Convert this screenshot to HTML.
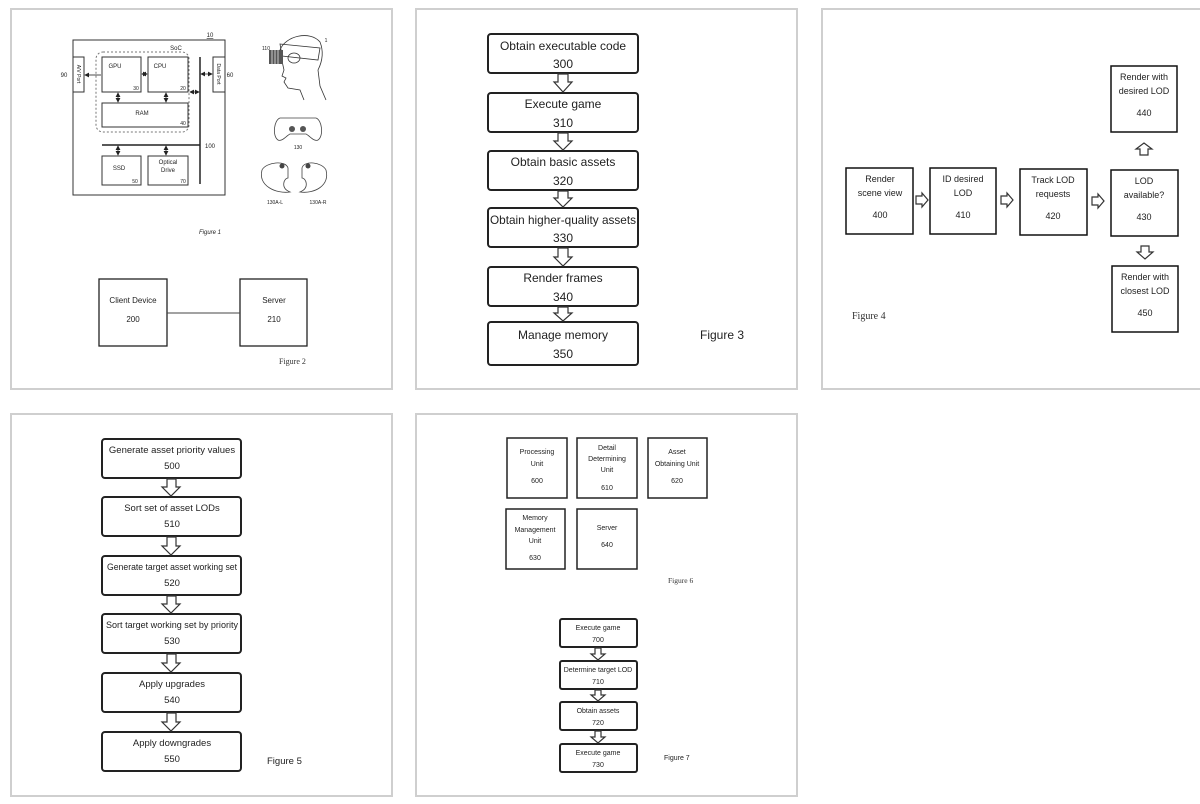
<!DOCTYPE html>
<html><head><meta charset="utf-8"><style>
html,body{margin:0;padding:0;background:#fff;}
svg{display:block;}
.s{font-family:"Liberation Sans",sans-serif;fill:#222;text-anchor:middle;}
.r{font-family:"Liberation Serif",serif;fill:#333;}
.b{fill:#fff;stroke:#222;stroke-width:2;}
.a{fill:#fff;stroke:#333;stroke-width:1.2;}
.p{fill:#fff;stroke:#cfcfcf;stroke-width:2;}
</style></head><body>
<svg width="1200" height="804" viewBox="0 0 1200 804" xmlns="http://www.w3.org/2000/svg">
<defs>
<marker id="ah" markerWidth="6" markerHeight="6" refX="5" refY="3" orient="auto-start-reverse"><path d="M0,0 L6,3 L0,6z" fill="#222"/></marker>
</defs>
<rect class="p" x="11" y="9" width="381" height="380"/>
<rect class="p" x="416" y="9" width="381" height="380"/>
<rect class="p" x="822" y="9" width="400" height="380"/>
<rect class="p" x="11" y="414" width="381" height="382"/>
<rect class="p" x="416" y="414" width="381" height="382"/>

<!-- Figure 1 -->
<g font-size="6" class="s">
<rect x="73" y="40" width="152" height="155" fill="none" stroke="#333" stroke-width="1"/>
<text x="210" y="37" font-size="6" text-decoration="underline">10</text>
<rect x="96" y="52" width="93" height="80" rx="7" fill="none" stroke="#777" stroke-width="1" stroke-dasharray="2,2"/>
<text x="176" y="50">SoC</text>
<rect x="102" y="57" width="39" height="35" fill="none" stroke="#333"/>
<text x="115" y="68">GPU</text><text x="136" y="90" font-size="5">30</text>
<rect x="148" y="57" width="40" height="35" fill="none" stroke="#333"/>
<text x="160" y="68">CPU</text><text x="183" y="90" font-size="5">20</text>
<rect x="102" y="103" width="86" height="24" fill="none" stroke="#333"/>
<text x="142" y="115">RAM</text><text x="183" y="125" font-size="5">40</text>
<rect x="73" y="57" width="11" height="35" fill="none" stroke="#333"/>
<text transform="translate(77,74) rotate(90)" font-size="5">A/V Port</text>
<rect x="213" y="57" width="12" height="35" fill="none" stroke="#333"/>
<text transform="translate(217,74) rotate(90)" font-size="5">Data Port</text>
<text x="64" y="77">90</text><text x="230" y="77">60</text>
<line x1="200" y1="57" x2="200" y2="184" stroke="#222" stroke-width="1.5"/>
<line x1="102" y1="145" x2="200" y2="145" stroke="#222" stroke-width="1.5"/>
<text x="210" y="148">100</text>
<rect x="102" y="156" width="39" height="29" fill="none" stroke="#333"/>
<text x="119" y="170">SSD</text><text x="135" y="183" font-size="5">50</text>
<rect x="148" y="156" width="40" height="29" fill="none" stroke="#333"/>
<text x="168" y="164">Optical</text><text x="168" y="172">Drive</text><text x="183" y="183" font-size="5">70</text>
<g stroke="#222" stroke-width="0.8" fill="none">
<line x1="85" y1="75" x2="101" y2="75" marker-start="url(#ah)"/>
<line x1="142" y1="74" x2="147" y2="74" marker-start="url(#ah)" marker-end="url(#ah)"/>
<line x1="118" y1="93" x2="118" y2="102" marker-start="url(#ah)" marker-end="url(#ah)"/>
<line x1="166" y1="93" x2="166" y2="102" marker-start="url(#ah)" marker-end="url(#ah)"/>
<line x1="190" y1="92" x2="199" y2="92" marker-start="url(#ah)" marker-end="url(#ah)"/>
<line x1="201" y1="74" x2="212" y2="74" marker-start="url(#ah)" marker-end="url(#ah)"/>
<line x1="118" y1="146" x2="118" y2="155" marker-start="url(#ah)" marker-end="url(#ah)"/>
<line x1="166" y1="146" x2="166" y2="155" marker-start="url(#ah)" marker-end="url(#ah)"/>
</g>
<g fill="none" stroke="#333" stroke-width="0.8">
<path d="M280,50 C285,36 310,30 320,42 C324,52 322,62 318,70 L320,86 L326,100"/>
<path d="M280,52 L284,70 L282,76 L286,78 L284,82 L288,88 L300,90 L304,100"/>
<path d="M280,44 L320,48 L318,60 L282,56z"/>
<ellipse cx="294" cy="58" rx="6" ry="5"/>
</g>
<rect x="269" y="50" width="14" height="14" fill="#555"/>
<g stroke="#fff" stroke-width="0.7"><line x1="272" y1="50" x2="272" y2="64"/><line x1="275" y1="50" x2="275" y2="64"/><line x1="278" y1="50" x2="278" y2="64"/></g>
<text x="266" y="50" font-size="5">110</text><text x="326" y="42" font-size="5">1</text>
<path d="M280,118 L316,118 C322,120 324,136 318,140 C314,142 310,136 306,134 L290,134 C286,136 282,142 278,140 C272,136 274,120 280,118z" fill="none" stroke="#444" stroke-width="0.8"/>
<circle cx="292" cy="129" r="3" fill="#555"/><circle cx="303" cy="129" r="3" fill="#555"/>
<text x="298" y="149" font-size="5">130</text>
<path d="M262,170 C266,162 286,160 288,168 L288,178 C284,178 280,188 290,192 C276,194 258,186 262,170z" fill="none" stroke="#444" stroke-width="0.8"/>
<path d="M326,170 C322,162 304,160 302,168 L302,178 C306,178 310,188 300,192 C314,194 330,186 326,170z" fill="none" stroke="#444" stroke-width="0.8"/>
<circle cx="282" cy="166" r="2.5" fill="#444"/><circle cx="308" cy="166" r="2.5" fill="#444"/>
<text x="275" y="204" font-size="5">130A-L</text><text x="318" y="204" font-size="5">130A-R</text>
<text x="210" y="234" font-size="6" font-style="italic">Figure 1</text>
</g>

<!-- Figure 2 -->
<rect x="99" y="279" width="68" height="67" fill="none" stroke="#222" stroke-width="1.3"/>
<rect x="240" y="279" width="67" height="67" fill="none" stroke="#222" stroke-width="1.3"/>
<line x1="167" y1="313" x2="240" y2="313" stroke="#444" stroke-width="1"/>
<text class="s" x="133" y="303" font-size="8">Client Device</text>
<text class="s" x="133" y="322" font-size="8">200</text>
<text class="s" x="274" y="303" font-size="8">Server</text>
<text class="s" x="274" y="322" font-size="8">210</text>
<text class="r" x="279" y="364" font-size="8">Figure 2</text>

<!-- Figure 3 -->
<g font-size="12" class="s">
<rect class="b" x="488" y="34" width="150" height="39" rx="3"/>
<text x="563" y="50">Obtain executable code</text><text x="563" y="68">300</text>
<rect class="b" x="488" y="93" width="150" height="39" rx="3"/>
<text x="563" y="108">Execute game</text><text x="563" y="127">310</text>
<rect class="b" x="488" y="151" width="150" height="39" rx="3"/>
<text x="563" y="166">Obtain basic assets</text><text x="563" y="185">320</text>
<rect class="b" x="488" y="208" width="150" height="39" rx="3"/>
<text x="563" y="224" textLength="146" lengthAdjust="spacingAndGlyphs">Obtain higher-quality assets</text><text x="563" y="242">330</text>
<rect class="b" x="488" y="267" width="150" height="39" rx="3"/>
<text x="563" y="282">Render frames</text><text x="563" y="301">340</text>
<rect class="b" x="488" y="322" width="150" height="43" rx="3"/>
<text x="563" y="339">Manage memory</text><text x="563" y="358">350</text>
<text x="700" y="339" style="text-anchor:start">Figure 3</text>
</g>
<g class="a">
<polygon points="558,74 568,74 568,82 572,82 563,92 554,82 558,82"/>
<polygon points="558,133 568,133 568,141 572,141 563,150 554,141 558,141"/>
<polygon points="558,191 568,191 568,198 572,198 563,207 554,198 558,198"/>
<polygon points="558,248 568,248 568,257 572,257 563,266 554,257 558,257"/>
<polygon points="558,307 568,307 568,313 572,313 563,321 554,313 558,313"/>
</g>

<!-- Figure 4 -->
<g font-size="9" class="s">
<rect x="846" y="168" width="67" height="66" fill="none" stroke="#111" stroke-width="1.5"/>
<text x="880" y="182">Render</text><text x="880" y="196">scene view</text><text x="880" y="218">400</text>
<rect x="930" y="168" width="66" height="66" fill="none" stroke="#111" stroke-width="1.5"/>
<text x="963" y="182">ID desired</text><text x="963" y="196">LOD</text><text x="963" y="218">410</text>
<rect x="1020" y="169" width="67" height="66" fill="none" stroke="#111" stroke-width="1.5"/>
<text x="1053" y="183">Track LOD</text><text x="1053" y="197">requests</text><text x="1053" y="219">420</text>
<rect x="1111" y="170" width="67" height="66" fill="none" stroke="#111" stroke-width="1.5"/>
<text x="1144" y="184">LOD</text><text x="1144" y="198">available?</text><text x="1144" y="220">430</text>
<rect x="1111" y="66" width="66" height="66" fill="none" stroke="#111" stroke-width="1.5"/>
<text x="1144" y="80">Render with</text><text x="1144" y="94">desired LOD</text><text x="1144" y="116">440</text>
<rect x="1112" y="266" width="66" height="66" fill="none" stroke="#111" stroke-width="1.5"/>
<text x="1145" y="280">Render with</text><text x="1145" y="294">closest LOD</text><text x="1145" y="316">450</text>
<text class="r" x="852" y="319" font-size="10" style="text-anchor:start">Figure 4</text>
</g>
<g class="a">
<polygon points="916,196 922,196 922,193 928,200 922,207 922,204 916,204"/>
<polygon points="1001,196 1007,196 1007,193 1013,200 1007,207 1007,204 1001,204"/>
<polygon points="1092,197 1098,197 1098,194 1104,201 1098,208 1098,205 1092,205"/>
<polygon points="1140,155 1148,155 1148,149 1152,149 1144,143 1136,149 1140,149"/>
<polygon points="1141,246 1149,246 1149,252 1153,252 1145,259 1137,252 1141,252"/>
</g>

<!-- Figure 5 -->
<g font-size="9.5" class="s">
<rect class="b" x="102" y="439" width="139" height="39" rx="3"/>
<text x="172" y="453">Generate asset priority values</text><text x="172" y="469">500</text>
<rect class="b" x="102" y="497" width="139" height="39" rx="3"/>
<text x="172" y="511">Sort set of asset LODs</text><text x="172" y="527">510</text>
<rect class="b" x="102" y="556" width="139" height="39" rx="3"/>
<text x="172" y="570" textLength="130" lengthAdjust="spacingAndGlyphs">Generate target asset working set</text><text x="172" y="586">520</text>
<rect class="b" x="102" y="614" width="139" height="39" rx="3"/>
<text x="172" y="628" textLength="132" lengthAdjust="spacingAndGlyphs">Sort target working set by priority</text><text x="172" y="644">530</text>
<rect class="b" x="102" y="673" width="139" height="39" rx="3"/>
<text x="172" y="687">Apply upgrades</text><text x="172" y="703">540</text>
<rect class="b" x="102" y="732" width="139" height="39" rx="3"/>
<text x="172" y="746">Apply downgrades</text><text x="172" y="762">550</text>
<text x="267" y="764" style="text-anchor:start">Figure 5</text>
</g>
<g class="a">
<polygon points="167,479 176,479 176,487 180,487 171,496 162,487 167,487"/>
<polygon points="167,537 176,537 176,546 180,546 171,555 162,546 167,546"/>
<polygon points="167,596 176,596 176,604 180,604 171,613 162,604 167,604"/>
<polygon points="167,654 176,654 176,663 180,663 171,672 162,663 167,663"/>
<polygon points="167,713 176,713 176,722 180,722 171,731 162,722 167,722"/>
</g>

<!-- Figure 6 -->
<g font-size="7" class="s">
<rect x="507" y="438" width="60" height="60" fill="none" stroke="#222" stroke-width="1.5"/>
<text x="537" y="454">Processing</text><text x="537" y="466">Unit</text><text x="537" y="483">600</text>
<rect x="577" y="438" width="60" height="60" fill="none" stroke="#222" stroke-width="1.5"/>
<text x="607" y="450">Detail</text><text x="607" y="461">Determining</text><text x="607" y="472">Unit</text><text x="607" y="490">610</text>
<rect x="648" y="438" width="59" height="60" fill="none" stroke="#222" stroke-width="1.5"/>
<text x="677" y="454">Asset</text><text x="677" y="466">Obtaining Unit</text><text x="677" y="483">620</text>
<rect x="506" y="509" width="59" height="60" fill="none" stroke="#222" stroke-width="1.5"/>
<text x="535" y="520">Memory</text><text x="535" y="532">Management</text><text x="535" y="543">Unit</text><text x="535" y="560">630</text>
<rect x="577" y="509" width="60" height="60" fill="none" stroke="#222" stroke-width="1.5"/>
<text x="607" y="530">Server</text><text x="607" y="547">640</text>
<text class="r" x="668" y="583" font-size="7.5" style="text-anchor:start">Figure 6</text>
</g>

<!-- Figure 7 -->
<g font-size="7" class="s">
<rect class="b" x="560" y="619" width="77" height="28" rx="2"/>
<text x="598" y="630">Execute game</text><text x="598" y="642">700</text>
<rect class="b" x="560" y="661" width="77" height="28" rx="2"/>
<text x="598" y="672">Determine target LOD</text><text x="598" y="684">710</text>
<rect class="b" x="560" y="702" width="77" height="28" rx="2"/>
<text x="598" y="713">Obtain assets</text><text x="598" y="725">720</text>
<rect class="b" x="560" y="744" width="77" height="28" rx="2"/>
<text x="598" y="755">Execute game</text><text x="598" y="767">730</text>
<text x="664" y="760" style="text-anchor:start">Figure 7</text>
</g>
<g class="a">
<polygon points="595,648 601,648 601,654 605,654 598,660 591,654 595,654"/>
<polygon points="595,690 601,690 601,695 605,695 598,701 591,695 595,695"/>
<polygon points="595,731 601,731 601,737 605,737 598,743 591,737 595,737"/>
</g>
</svg>
</body></html>
